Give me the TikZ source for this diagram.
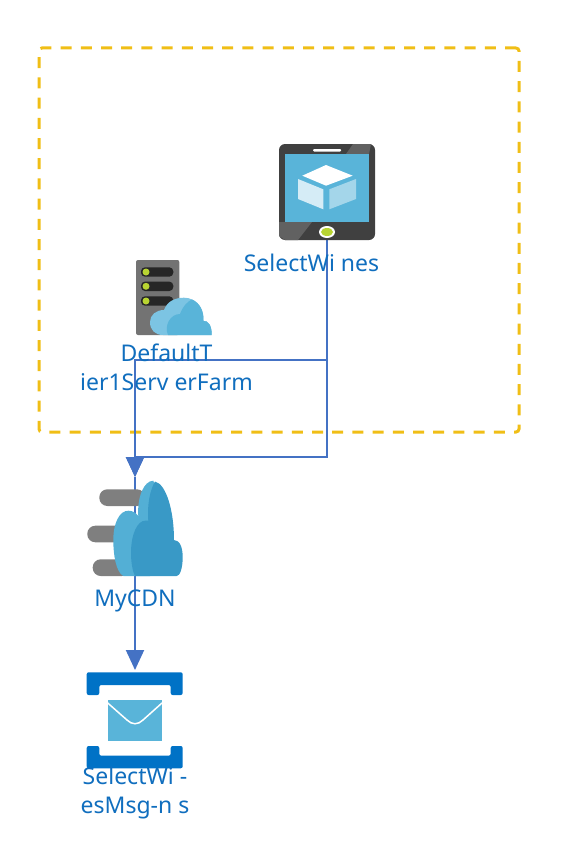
\documentclass[tikz,border=0pt]{standalone}
\usepackage{fontspec}
\setmainfont{Noto Sans}
\usetikzlibrary{arrows.meta,positioning}
\definecolor{flowblue}{HTML}{4472C4}
\definecolor{labelblue}{HTML}{106EBE}
\definecolor{boxyellow}{HTML}{F0BE16}
\definecolor{azure}{HTML}{59B4D9}
\definecolor{azuredark}{HTML}{3999C6}
\definecolor{azurelight}{HTML}{7CC4E3}
\definecolor{deepblue}{HTML}{0072C6}
\definecolor{slategray}{HTML}{7F7F7F}
\definecolor{ledgreen}{HTML}{B8D432}
\tikzset{
	icon/.style = {inner sep=0pt, outer sep=0pt},
	lbl/.style = {inner sep=0pt, outer sep=0pt, text=labelblue, align=center,
		font=\fontsize{23}{29}\selectfont},
	flow/.style = {draw=flowblue, line width=2pt, -{Triangle[length=20pt, width=18pt]}},
}

\begin{document}
\begin{tikzpicture}[x=1pt, y=-1pt]
	\useasboundingbox (0,0) rectangle (576,864);
	\newcommand\hgt{96pt}
	% placeholders for the icons
	\node [icon, minimum width=\hgt, minimum height=\hgt] (tablet) at (327,192) {};
	\node [icon, minimum width=76pt, minimum height=75pt, below left=20pt and 67pt of tablet] (server) {};
	\node [icon, minimum width=\hgt, minimum height=100pt, below left=237pt and 96pt of tablet] (cdn) {};
	\node [icon, minimum width=\hgt, minimum height=\hgt, below=93pt of cdn] (mail) {};
	% region
	\node [icon, draw=boxyellow, line width=3pt, dash pattern=on 11pt off 9.2pt, rounded corners=3pt,
		minimum width=480pt, minimum height=384pt] (region) at (279,240) {};
	% connectors
	\coordinate [below=120pt of tablet.south] (upperbend);
	\coordinate [below=217pt of tablet.south] (lowerbend);
	\draw [flow] (tablet.south) -- (upperbend) -| (cdn.north);
	\draw [flow] (tablet.south) -- (lowerbend) -| (cdn.north);
	\draw [flow] (cdn.north) -- (mail.north);
	% tablet
	\fill [black!75, rounded corners=6pt] (279,144) rectangle (375,240);
	\fill [black!62] (353,144) -- (371,144) -- (369,154) -- (346,154) -- cycle;
	\fill [black!62] (285,222) -- (312,222) -- (298,240) -- (285,240) -- (279,236) -- (279,222) -- cycle;
	\fill [azure] (285,154) rectangle (369,222);
	\fill [white, rounded corners=1pt] (313,149) rectangle (341,151.5);
	\fill [white] (327,232) ellipse [x radius=8, y radius=6];
	\fill [ledgreen] (327,232) ellipse [x radius=6, y radius=4];
	\fill [white] (326,165) -- (352.7,175.7) -- (326,185.7) -- (302.3,175.7) -- cycle;
	\fill [white!75!azure] (298,179) -- (323.3,189.3) -- (323.3,209.3) -- (298,199) -- cycle;
	\fill [white!45!azure] (329.3,189.3) -- (356,179) -- (356,199) -- (329.3,209.3) -- cycle;
	% server
	\fill [black!55, rounded corners=2pt] (136,260) rectangle (179.3,335);
	\foreach \y in {272,286.3,301} {
		\fill [black!85, rounded corners=4pt] (141,\y-4.7) rectangle (173.3,\y+4.7);
		\fill [ledgreen] (146,\y) circle (3.5);
	}
	\fill [azurelight] (163,335) .. controls (155,335) and (150,330) .. (150,322)
		.. controls (150,315) and (156,310) .. (164,310)
		.. controls (167,302) and (174,297.7) .. (184,297.7)
		.. controls (196,297.7) and (204,308) .. (203.5,321)
		.. controls (208,320) and (212,326) .. (211.7,335) -- cycle;
	\fill [azure] (168,335) .. controls (164,326) and (170,314) .. (180,314)
		.. controls (183,306) and (188,301) .. (192,299.5)
		.. controls (200,303) and (204,311) .. (203.5,321)
		.. controls (208,320) and (212,326) .. (211.7,335) -- cycle;
	% cdn
	\fill [slategray, rounded corners=8pt] (99.3,489.3) rectangle (145,506);
	\fill [slategray, rounded corners=8pt] (87.3,525.7) rectangle (125,542.3);
	\fill [slategray, rounded corners=8pt] (92.7,559.3) rectangle (130,576);
	\fill [azure!80!azuredark] (123.3,576) .. controls (116,572) and (113.3,555) .. (113.3,540)
		.. controls (113.3,522) and (120,510.7) .. (128.3,510.7)
		.. controls (133,510.7) and (136,513) .. (138.3,516)
		.. controls (137,497) and (144,480.7) .. (153.3,480.7)
		-- (160,500) -- (150,576) -- cycle;
	\fill [azuredark] (155,481.5) .. controls (166,484) and (174,510) .. (174,540)
		.. controls (180,540) and (182.7,548) .. (182.7,557)
		.. controls (182.7,568) and (180,576) .. (176.7,576)
		-- (135,576) .. controls (132,570) and (131,560) .. (131,553)
		.. controls (131,533) and (138,520.7) .. (145,520.7)
		-- (148.3,520.7) .. controls (147,505) and (150,490) .. (155,481.5) -- cycle;
	% mail
	\fill [deepblue, rounded corners=2pt] (86.7,695) -- (86.7,672.3) -- (182.7,672.3) -- (182.7,695)
		-- (170.7,695) -- (170.7,685) -- (99.3,685) -- (99.3,695) -- cycle;
	\fill [deepblue, rounded corners=2pt] (86.7,746) -- (86.7,768.3) -- (182.7,768.3) -- (182.7,746)
		-- (170.7,746) -- (170.7,755.7) -- (99.3,755.7) -- (99.3,746) -- cycle;
	\fill [azure] (107.7,700) rectangle (162,741);
	\draw [white, line width=1.5pt] (107.7,703) -- (127,720) .. controls (132,725) and (138,725) .. (143,720) -- (162,703);
	% labels
	\node [lbl, below=14pt of tablet.south, xshift=-15.5pt] (tabletlabel) {SelectWi nes};
	\node [lbl, below=9pt of server.south, xshift=-7.5pt] (serverlabel) {DefaultT\\ier1Serv erFarm};
	\node [lbl, below=13pt of cdn.south] (cdnlabel) {MyCDN};
	\node [lbl, below=1pt of mail.south] (maillabel) {SelectWi -\\esMsg-n s};
\end{tikzpicture}
\end{document}
